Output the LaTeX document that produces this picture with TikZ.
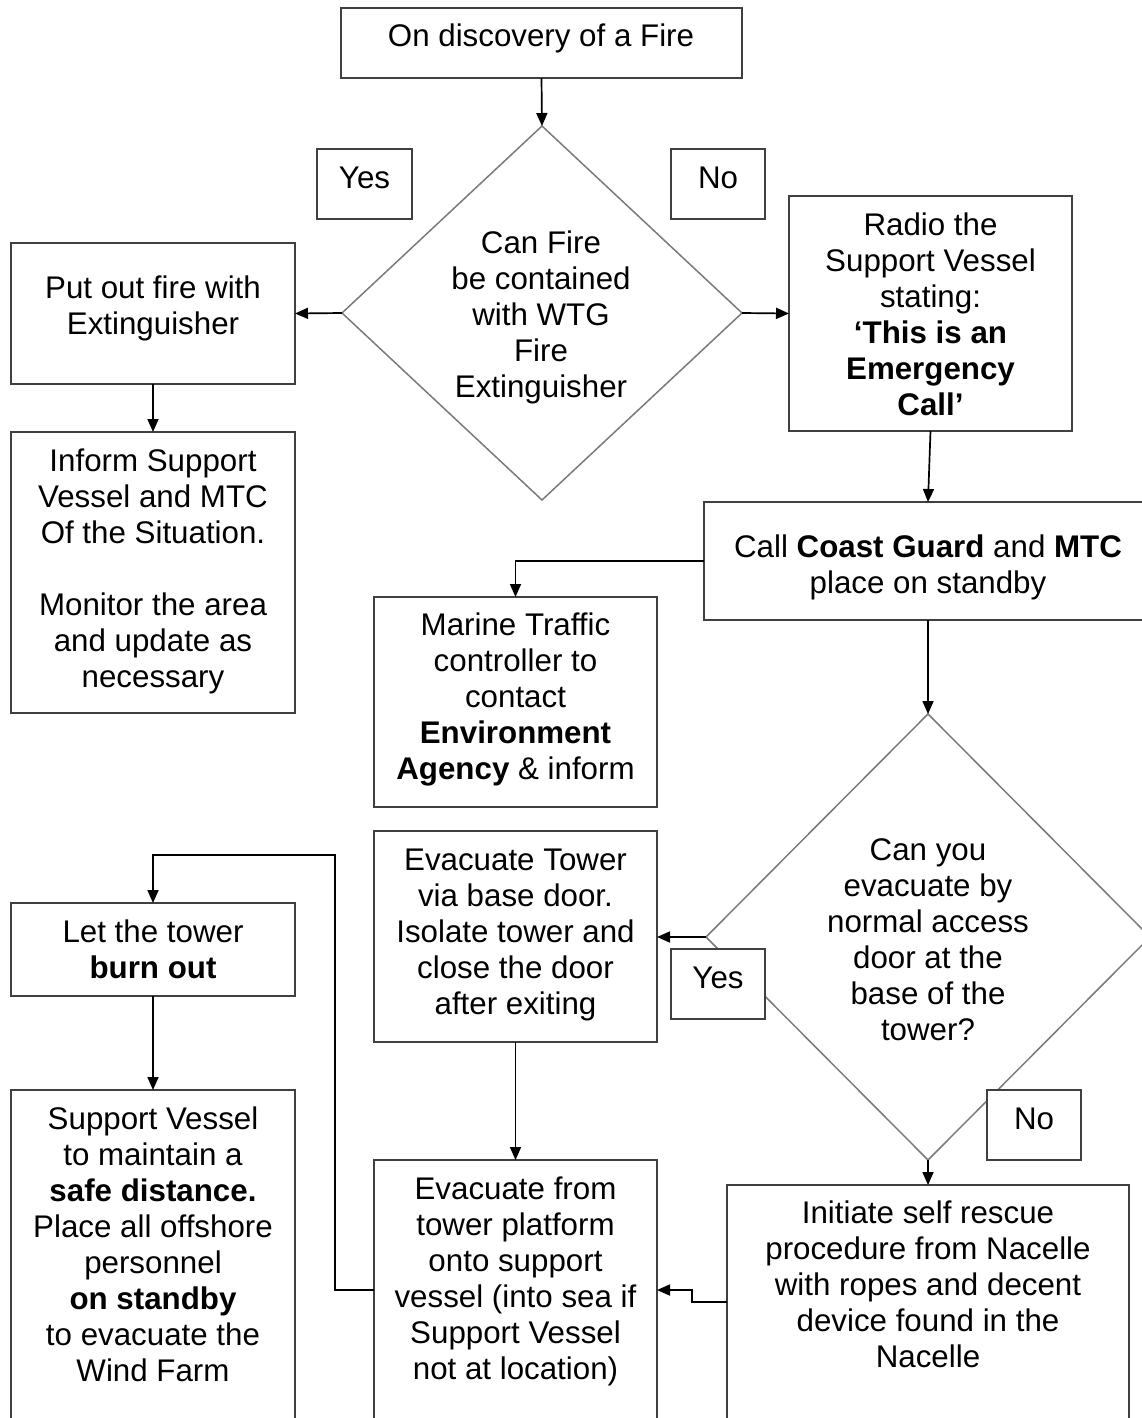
\documentclass[tikz,border=0pt]{standalone}
\usepackage{fontspec}
\setmainfont{Liberation Sans}
\usetikzlibrary{arrows.meta,shapes.geometric}
\definecolor{boxline}{HTML}{404040}
\definecolor{diamline}{HTML}{7A7A7A}
\begin{document}
\begin{tikzpicture}[x=1pt,y=-1pt,
  stepbox/.style={draw=boxline,line width=1.6pt,fill=white,inner sep=0pt,outer sep=0pt},
  decision/.style={draw=diamline,line width=1.5pt,shape=diamond,inner sep=0pt,outer sep=0pt},
  txt/.style={align=center,inner sep=0pt,font=\fontsize{31.3}{36}\selectfont},
  arr/.style={draw=black,line width=1.7pt,-{Triangle[length=13pt,width=11pt]}}]
\useasboundingbox (0,0) rectangle (1142,1418);
\clip (0,0) rectangle (1142,1418);
\fill[white] (0,0) rectangle (1142,1418);

% decisions
\node[decision,minimum width=400pt,minimum height=374pt] (d1) at (542,313) {};
\node[decision,minimum width=444pt,minimum height=446pt] (d2) at (928,937) {};

% process boxes (Yes/No tags are filled, so they sit over the decision outlines)
\node[stepbox,minimum width=401pt,minimum height=70pt]  (start)     at (541.5,43)   {};
\node[stepbox,minimum width=95pt,minimum height=70pt]   (yes1)      at (364.5,184)  {};
\node[stepbox,minimum width=94pt,minimum height=70pt]   (no1)       at (718,184)    {};
\node[stepbox,minimum width=284pt,minimum height=141pt] (putout)    at (153,313.5)  {};
\node[stepbox,minimum width=284pt,minimum height=281pt] (inform)    at (153,572.5)  {};
\node[stepbox,minimum width=283pt,minimum height=235pt] (radio)     at (930.5,313.5){};
\node[stepbox,minimum width=448pt,minimum height=118pt] (call)      at (928,561)    {};
\node[stepbox,minimum width=283pt,minimum height=210pt] (marine)    at (515.5,702)  {};
\node[stepbox,minimum width=284pt,minimum height=93pt]  (lettower)  at (153,949.5)  {};
\node[stepbox,minimum width=283pt,minimum height=211pt] (evactower) at (515.5,936.5){};
\node[stepbox,minimum width=94pt,minimum height=70pt]   (yes2)      at (718,984)    {};
\node[stepbox,minimum width=94pt,minimum height=70pt]   (no2)       at (1034,1125)  {};
\node[stepbox,minimum width=284pt,minimum height=350pt] (support)   at (153,1265)   {};
\node[stepbox,minimum width=283pt,minimum height=280pt] (evacfrom)  at (515.5,1300) {};
\node[stepbox,minimum width=402pt,minimum height=255pt] (initiate)  at (928,1312.5) {};

% labels
\node[txt] (start-t) at (541,39) {\strut On discovery of a Fire\strut};
\node[txt] (yes1-t) at (364.5,181) {\strut Yes\strut};
\node[txt] (no1-t) at (718,181) {\strut No\strut};
\node[txt] (d1-t) at (541,318) {\strut Can Fire\\be contained\\with WTG\\Fire\\Extinguisher\strut};
\node[txt] (putout-t) at (153,309) {\strut Put out fire with\\Extinguisher\strut};
\node[txt] (inform-t) at (153,572) {\strut Inform Support\\Vessel and MTC\\Of the Situation.\\[36pt]Monitor the area\\and update as\\necessary\strut};
\node[txt] (radio-t) at (930.5,318) {\strut Radio the\\Support Vessel\\stating:\\\textbf{‘This is an}\\\textbf{Emergency}\\\textbf{Call’}\strut};
\node[txt] (call-t) at (928,568) {\strut Call \textbf{Coast Guard} and \textbf{MTC}\\place on standby\strut};
\node[txt] (marine-t) at (515.5,700) {\strut Marine Traffic\\controller to\\contact\\\textbf{Environment}\\\textbf{Agency} \& inform\strut};
\node[txt] (lettower-t) at (153,953) {\strut Let the tower\\\textbf{burn out}\strut};
\node[txt] (evactower-t) at (515.5,935) {\strut Evacuate Tower\\via base door.\\Isolate tower and\\close the door\\after exiting\strut};
\node[txt] (d2-t) at (928,943) {\strut Can you\\evacuate by\\normal access\\door at the\\base of the\\tower?\strut};
\node[txt] (yes2-t) at (718,981) {\strut Yes\strut};
\node[txt] (no2-t) at (1034,1122) {\strut No\strut};
\node[txt] (support-t) at (153,1248) {\strut Support Vessel\\to maintain a\\\textbf{safe distance.}\\Place all offshore\\personnel\\\textbf{on standby}\\to evacuate the\\Wind Farm\strut};
\node[txt] (evacfrom-t) at (515.5,1282) {\strut Evacuate from\\tower platform\\onto support\\vessel (into sea if\\Support Vessel\\not at location)\strut};
\node[txt] (initiate-t) at (928,1288) {\strut Initiate self rescue\\procedure from Nacelle\\with ropes and decent\\device found in the\\Nacelle\strut};

% bend points
\coordinate (ini-out) at (727,1302);
\coordinate (jog-a) at (692,1302);
\coordinate (jog-b) at (692,1290);
\coordinate (loop-a) at (335,1290);
\coordinate (loop-b) at (335,855);

% connectors
\draw[arr] (start.south) -- (d1.north);
\draw[arr] (d1.west) -- (putout.east);
\draw[arr] (d1.east) -- (radio.west);
\draw[arr] (putout.south) -- (inform.north);
\draw[arr] (radio.south) -- (call.north);
\draw[arr] (call.west) -| (marine.north);
\draw[arr] (call.south) -- (d2.north);
\draw[arr] (d2.west) -- (d2.west -| evactower.east);
\draw[arr] (d2.south) -- (initiate.north);
\draw[arr] (evactower.south) -- (evacfrom.north);
\draw[arr] (ini-out) -- (jog-a) -- (jog-b) -- (jog-b -| evacfrom.east);
\draw[arr] (loop-a -| evacfrom.west) -- (loop-a) -- (loop-b) -| (lettower.north);
\draw[arr] (lettower.south) -- (support.north);
\end{tikzpicture}
\end{document}
